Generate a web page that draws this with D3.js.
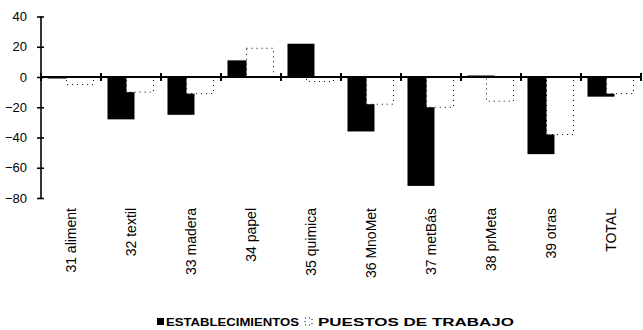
<!DOCTYPE html>
<html>
<head>
<meta charset="utf-8">
<script src="https://cdn.jsdelivr.net/npm/d3@7"></script>
<style>
  html, body { margin: 0; padding: 0; background: #fff; }
  svg { display: block; }
  text { font-family: "Liberation Sans", Arial, sans-serif; fill: #000; }
</style>
</head>
<body>
<svg id="chart" width="643" height="330"></svg>
<script>
// Sector labels (rama industrial) and the two series, in percent
const categories = ["31 aliment", "32 textil", "33 madera", "34 papel", "35 quimica",
                    "36 MnoMet", "37 metBás", "38 prMeta", "39 otras", "TOTAL"];
const establecimientos = [-1, -28, -25, 11, 22, -36, -72, 1, -51, -13];
const puestos = [-5, -10, -11, 19, -3, -18, -20, -16, -38, -11];
const yTicks = [-80, -60, -40, -20, 0, 20, 40];
const seriesNames = ["ESTABLECIMIENTOS", "PUESTOS DE TRABAJO"];

const svg = d3.select("#chart");

const x = d3.scaleBand().domain(categories).range([41, 641]).padding(0);
const y = d3.scaleLinear().domain([-80, 40]).range([198, 16.5]);

const bw = x.bandwidth();
const barW = bw * 0.45;
const offA = bw * 0.108;   // first series
const offB = bw * 0.425;   // second series, overlapping the first

// Black bars
svg.append("g").selectAll("rect")
  .data(categories.map((c, i) => ({ c, v: establecimientos[i] })))
  .join("rect")
  .attr("x", d => x(d.c) + offA)
  .attr("width", barW)
  .attr("y", d => y(Math.max(0, d.v)))
  .attr("height", d => Math.abs(y(d.v) - y(0)))
  .attr("fill", "#000");

// White bars with dotted outline, drawn over the black ones
svg.append("g").selectAll("rect")
  .data(categories.map((c, i) => ({ c, v: puestos[i] })))
  .join("rect")
  .attr("x", d => x(d.c) + offB)
  .attr("width", barW)
  .attr("y", d => y(Math.max(0, d.v)))
  .attr("height", d => Math.abs(y(d.v) - y(0)))
  .attr("fill", "#fff")
  .attr("stroke", "#000")
  .attr("stroke-width", 1)
  .attr("stroke-dasharray", "1,4");

// Y axis
const yAxis = svg.append("g")
  .attr("transform", "translate(41,0)")
  .call(d3.axisLeft(y).tickValues(yTicks).tickSize(4).tickPadding(10).tickFormat(d3.format("d")));
yAxis.select(".domain").attr("stroke-width", 1.6).attr("d", `M0,${y(40)}V${y(-80)}`);
yAxis.selectAll(".tick line").attr("x1", 3).attr("x2", -4).attr("stroke-width", 1.6);
yAxis.selectAll(".tick text")
  .style("font-size", "13px")
  .style("font-family", "'Liberation Sans', Arial, sans-serif");

// Zero line with category separators
const xAxis = svg.append("g").attr("transform", `translate(0,${y(0)})`);
xAxis.append("line")
  .attr("x1", x.range()[0]).attr("x2", x.range()[1])
  .attr("stroke", "#000").attr("stroke-width", 2);
xAxis.selectAll("line.sep")
  .data(categories.map(c => x(c) + bw).concat([x(categories[0])]))
  .join("line")
  .attr("class", "sep")
  .attr("x1", d => d).attr("x2", d => d)
  .attr("y1", -4).attr("y2", 4)
  .attr("stroke", "#000").attr("stroke-width", 2);

// Rotated category labels
svg.append("g").selectAll("text")
  .data(categories)
  .join("text")
  .attr("transform", d => `translate(${x(d) + bw / 2},208) rotate(-90)`)
  .attr("text-anchor", "end")
  .attr("dy", "0.35em")
  .style("font-size", "14px")
  .text(d => d);

// Legend
const lg = svg.append("g").attr("transform", "translate(0,322)");
lg.append("rect").attr("x", 157).attr("y", -4).attr("width", 7).attr("height", 7).attr("fill", "#000");
lg.append("text").attr("x", 166).attr("dy", "0.35em")
  .style("font-size", "11px").style("font-weight", "bold")
  .attr("textLength", 133).attr("lengthAdjust", "spacingAndGlyphs")
  .text(seriesNames[0]);
lg.append("rect").attr("x", 305).attr("y", -4).attr("width", 7).attr("height", 7)
  .attr("fill", "#fff").attr("stroke", "#000").attr("stroke-width", 1).attr("stroke-dasharray", "1,3");
lg.append("text").attr("x", 318).attr("dy", "0.35em")
  .style("font-size", "11px").style("font-weight", "bold")
  .attr("textLength", 196).attr("lengthAdjust", "spacingAndGlyphs")
  .text(seriesNames[1]);
</script>
</body>
</html>
